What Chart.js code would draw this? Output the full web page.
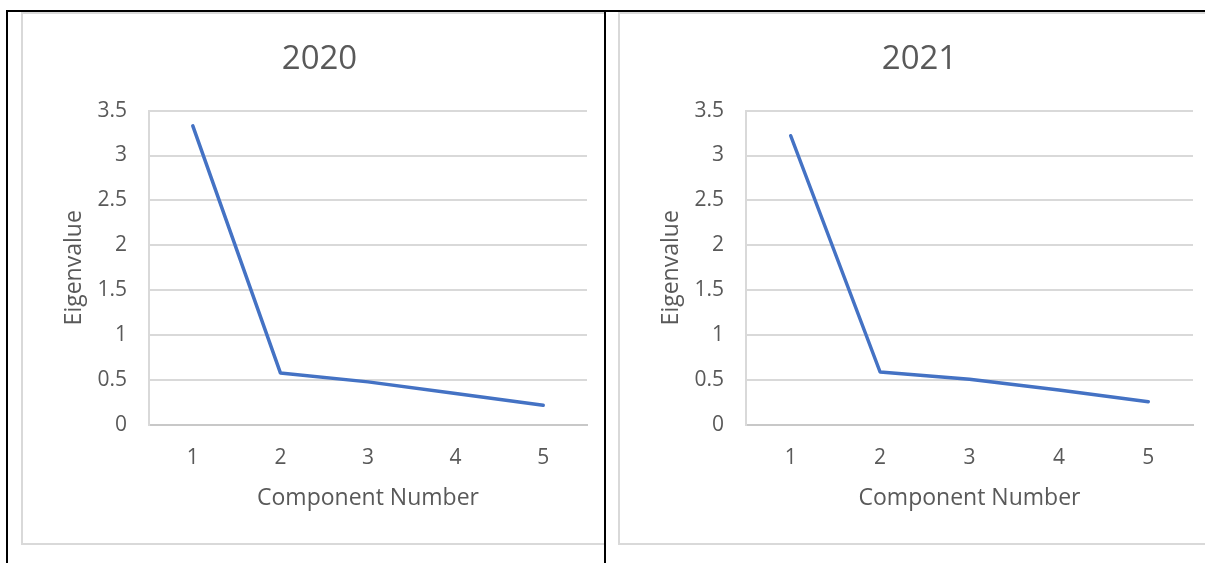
<!DOCTYPE html>
<html>
<head>
<meta charset="utf-8">
<script src="https://cdn.jsdelivr.net/npm/chart.js@4/dist/chart.umd.min.js"></script>
<style>
  body { margin: 0; width: 1205px; height: 563px; overflow: hidden; background: #fff; position: relative; }
  .box { position: absolute; top: 12px; height: 533px; border: 2px solid #d9d9d9; box-sizing: border-box; overflow: hidden; background: #fff; }
  .rule { position: absolute; background: #000; z-index: 5; }
</style>
</head>
<body>
<div class="box" style="left:21px; width:585px;"><canvas id="chart2020" width="592" height="529"></canvas></div>
<div class="box" style="left:618px; width:600px;"><canvas id="chart2021" width="596" height="529"></canvas></div>
<div class="rule" style="left:6px; top:10px; width:1199px; height:2px;"></div>
<div class="rule" style="left:6px; top:10px; width:2px; height:553px;"></div>
<div class="rule" style="left:604px; top:10px; width:2px; height:553px;"></div>
<script>
// Scree plot data
const components = ['1', '2', '3', '4', '5'];
const eigen2020 = [3.33, 0.58, 0.48, 0.35, 0.22];
const eigen2021 = [3.22, 0.59, 0.51, 0.39, 0.26];
const yMin = 0, yMax = 3.5, yStep = 0.5;

const textColor = '#595959';
const fontFamily = '"Open Sans", sans-serif';

// Build one chart (both share the same look)
// leftPad shifts the centred title; the y axis shrinks by the same amount
const makeChart = (id, title, values, leftPad, rightPad) => {
    const ctx = document.getElementById(id).getContext('2d');
    return new Chart(ctx, {
        type: 'line',
        data: {
            labels: components,
            datasets: [{
                label: title,
                data: values,
                borderColor: '#4472C4',
                borderWidth: 3.5,
                borderCapStyle: 'round',
                borderJoinStyle: 'round',
                pointRadius: 0,
                fill: false,
                tension: 0
            }]
        },
        options: {
            responsive: false,
            animation: false,
            layout: { padding: { left: leftPad, right: rightPad, top: 0, bottom: 0 } },
            plugins: {
                legend: { display: false },
                tooltip: { enabled: false },
                title: {
                    display: true,
                    text: title,
                    color: textColor,
                    font: { family: fontFamily, size: 33, weight: 'normal' },
                    padding: { top: 26, bottom: 31 }
                }
            },
            scales: {
                x: {
                    offset: true,
                    grid: { display: false, drawTicks: false },
                    border: { display: true, color: '#c8c8c8', width: 2 },
                    ticks: { color: textColor, font: { family: fontFamily, size: 21 }, padding: 20 },
                    title: {
                        display: true,
                        text: 'Component Number',
                        color: textColor,
                        font: { family: fontFamily, size: 23 },
                        padding: { top: 0, bottom: 31 }
                    },
                    afterFit: (scale) => { scale.height = 118; }
                },
                y: {
                    min: yMin,
                    max: yMax,
                    ticks: {
                        stepSize: yStep,
                        color: textColor,
                        font: { family: fontFamily, size: 21 },
                        padding: 22,
                        callback: (v) => String(v)
                    },
                    grid: { color: '#d9d9d9', lineWidth: 2, drawTicks: false },
                    border: { display: true, color: '#d9d9d9', width: 2 },
                    title: {
                        display: true,
                        text: 'Eigenvalue',
                        color: textColor,
                        font: { family: fontFamily, size: 23 },
                        padding: { top: 38 - leftPad, bottom: 0 }
                    },
                    afterFit: (scale) => { scale.width = 126 - leftPad; }
                }
            }
        }
    });
};

makeChart('chart2020', '2020', eigen2020, 29, 28);
makeChart('chart2021', '2021', eigen2021, 26, 23);
</script>
</body>
</html>
